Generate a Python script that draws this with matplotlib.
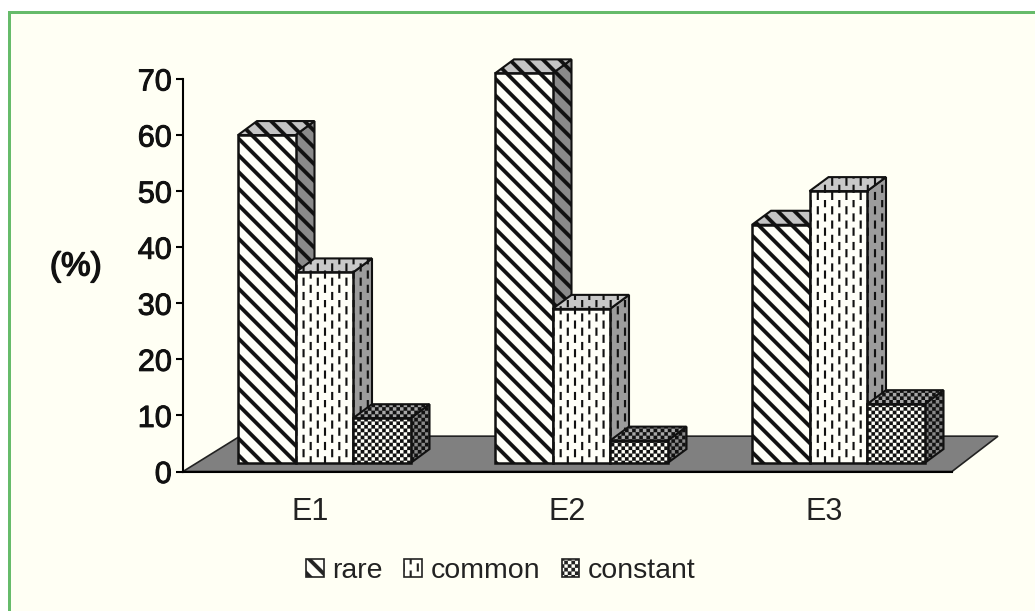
import matplotlib
matplotlib.use("Agg")
import matplotlib.pyplot as plt
import matplotlib.patheffects as pe
from matplotlib import hatch as mhatch
from matplotlib.patches import Polygon, Patch, Rectangle
from matplotlib.path import Path
import numpy as np

plt.rcParams["font.family"] = ["Liberation Sans", "DejaVu Sans"]

# Data
categories = ["E1", "E2", "E3"]
series_names = ["rare", "common", "constant"]
rare = [60, 71, 44]
common = [35.5, 29, 50]
constant = [9.5, 5.5, 12]
y_ticks = [0, 10, 20, 30, 40, 50, 60, 70]

W, H = 1035, 611


# --- custom hatches, one tile is 100 px at dpi 100 ---
class Base(mhatch.HatchPatternBase):
    filled = True
    key = ""

    def __init__(self, hatch, density):
        self.polys = self.make_polys() if self.key in hatch else []
        self.num_vertices = len(self.polys) * 5

    def set_vertices_and_codes(self, vertices, codes):
        i = 0
        for p in self.polys:
            vertices[i:i + 5] = np.vstack([p, p[:1]])
            codes[i:i + 5] = [Path.MOVETO, Path.LINETO, Path.LINETO, Path.LINETO, Path.CLOSEPOLY]
            i += 5


class Stripes(Base):
    key = "\\"

    def make_polys(self):
        polys = []
        n, t = 6, 0.026
        for k in range(-1, 2 * n + 2):
            c = k / n
            polys.append(np.array([[-0.1, c + 0.1 - t], [1.1, c - 1.1 - t], [1.1, c - 1.1 + t], [-0.1, c + 0.1 + t]]))
        return polys


class Dashes(Base):
    key = "|"

    def make_polys(self):
        polys = []
        for col in range(14):
            for row in range(7):
                x = (col + 0.5) / 14
                y = (row + (col % 2) * 0.5) / 7
                polys.append(np.array([[x - 0.01, y], [x + 0.01, y], [x + 0.01, y + 0.08], [x - 0.01, y + 0.08]]))
        return polys


class Checks(Base):
    key = "x"

    def make_polys(self):
        polys = []
        s = 1 / 28
        for i in range(28):
            for j in range(28):
                if (i + j) % 2 == 0:
                    polys.append(np.array([[i * s, j * s], [(i + 1) * s, j * s], [(i + 1) * s, (j + 1) * s], [i * s, (j + 1) * s]]))
        return polys


mhatch._hatch_types[:] = [Stripes, Dashes, Checks]
plt.rcParams["hatch.linewidth"] = 0.1
plt.rcParams["hatch.color"] = "black"

fig = plt.figure(figsize=(W / 100, H / 100), dpi=100, facecolor="white")


def fx(px):
    return px / W


def fy(py):
    return 1 - py / H


# Panel
fig.add_artist(Rectangle((fx(9), 0), 1, fy(12), transform=fig.transFigure, fc="#fffff4", ec="none", zorder=-3))
fig.add_artist(Rectangle((fx(8), 0), fx(3), fy(11), transform=fig.transFigure, fc="#66bb6a", ec="none", zorder=-2))
fig.add_artist(Rectangle((fx(8), fy(14)), 1, 3 / H, transform=fig.transFigure, fc="#66bb6a", ec="none", zorder=-2))

# Axes box: x from the y axis to the front edge of the floor
ax_l, ax_r, ax_t, ax_b = 183, 952, 79, 471.5
ax = fig.add_axes([fx(ax_l), fy(ax_b), fx(ax_r - ax_l), (ax_b - ax_t) / H])
ax.patch.set_visible(False)

group_px = 257
first_px = 310
ax.set_xlim((ax_l - first_px) / group_px, (ax_r - first_px) / group_px)
ax.set_ylim(0, 70)

x = np.arange(len(categories))
bar_w = 57.5 / group_px
bar_start = -72 / group_px
dx = 19 / group_px
dy = 14 / 5.6
base = 1.5

# Floor
x0, x1 = ax.get_xlim()
ax.add_patch(Polygon([(x0, 0), (x0 + 57 / group_px, 6.3), (x1 + 46 / group_px, 6.3), (x1, 0)],
                     closed=True, fc="#808080", ec="#222222", lw=1.2, clip_on=False, zorder=1))

# face colours: side, top
styles = [("\\", "#8a8a8a", "#c4c4c4"), ("|", "#9c9c9c", "#c8c8c8"), ("x", "#8a8a8a", "#a8a8a8")]
series = [rare, common, constant]

z = 2
for g in range(len(categories)):
    for s, vals in enumerate(series):
        v = vals[g]
        left = x[g] + bar_start + s * bar_w
        right = left + bar_w
        hatch_code, side_col, top_col = styles[s]
        side = [(right, base), (right + dx, base + dy), (right + dx, v + dy), (right, v)]
        top = [(left, v), (left + dx, v + dy), (right + dx, v + dy), (right, v)]
        front = [(left, base), (right, base), (right, v), (left, v)]
        ax.add_patch(Polygon(side, closed=True, fc=side_col, ec="#111111", lw=1.5, hatch=hatch_code, clip_on=False, zorder=z))
        ax.add_patch(Polygon(top, closed=True, fc=top_col, ec="#111111", lw=1.5, hatch=hatch_code, clip_on=False, zorder=z))
        ax.add_patch(Polygon(front, closed=True, fc="#fffff8", ec="#111111", lw=1.8, hatch=hatch_code, clip_on=False, zorder=z + 1))
        z += 2

# Axes
ax.spines["top"].set_visible(False)
ax.spines["right"].set_visible(False)
ax.spines["left"].set_linewidth(1.5)
ax.spines["bottom"].set_linewidth(1.5)
ax.spines["left"].set_zorder(100)
ax.spines["bottom"].set_zorder(100)
ax.set_yticks(y_ticks)
ax.set_xticks(x)
ax.set_xticklabels(categories)
ax.tick_params(axis="y", length=5, width=1.5, labelsize=22, pad=3, labelcolor="#111111")
ax.tick_params(axis="x", length=0, labelsize=22, pad=18, labelcolor="#222222")

heavy = [pe.withStroke(linewidth=0.7, foreground="#111111")]
for lab in ax.get_yticklabels():
    lab.set_path_effects(heavy)

fig.text(fx(76), fy(267), "(%)", fontsize=24, ha="center", va="center", color="#111111",
         path_effects=[pe.withStroke(linewidth=1.0, foreground="#111111")])

# Legend
handles = [Patch(fc="#fffff8", ec="#222222", lw=1.2, hatch=styles[i][0], label=series_names[i]) for i in range(3)]
fig.legend(handles=handles, loc="center", bbox_to_anchor=(fx(501), fy(571)), ncol=3, frameon=False,
           fontsize=20.5, handlelength=0.62, handleheight=0.62, handletextpad=0.3, columnspacing=0.75,
           borderpad=0, labelcolor="#222222")

fig.savefig("out.png", dpi=100)
